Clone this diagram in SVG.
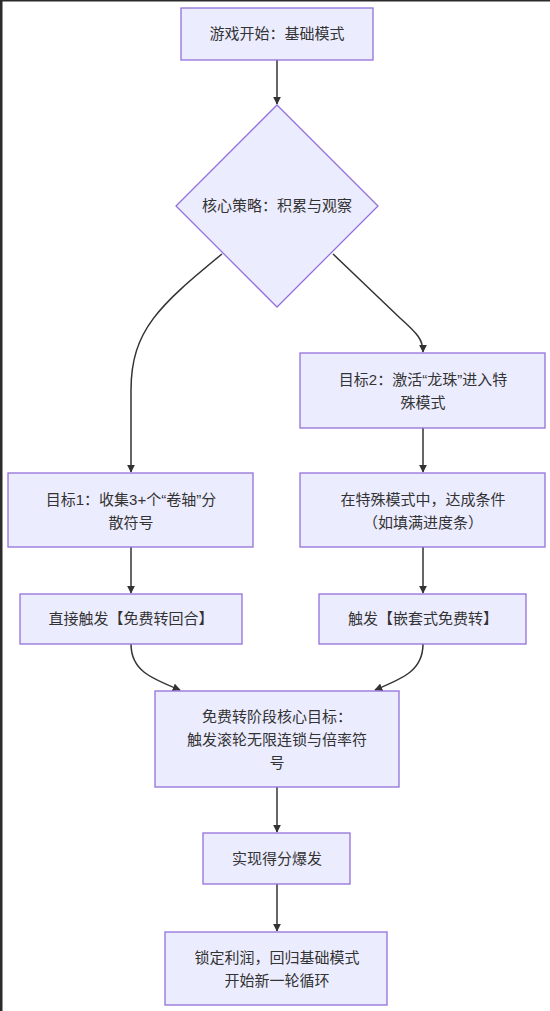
<svg xmlns="http://www.w3.org/2000/svg" width="550" height="1011" viewBox="0 0 550 1011">
<defs>
<style>
.node rect, .node polygon { fill: #ECECFF; stroke: #9370DB; stroke-width: 1.3; }
.node text { font-family: "Liberation Sans", "Noto Sans CJK SC", sans-serif; font-size: 15px; fill: #333333; text-anchor: middle; }
.edges path { fill: none; stroke: #333333; stroke-width: 1.5; }
</style>
<marker id="arrow" viewBox="0 0 10 10" refX="9" refY="5" markerWidth="8" markerHeight="8" markerUnits="userSpaceOnUse" orient="auto">
<path d="M0,0 L10,5 L0,10 z" fill="#333333"/>
</marker>
</defs>
<rect x="0" y="0" width="550" height="1011" fill="#ffffff"/>
<rect x="0" y="0" width="2.5" height="1011" fill="#2b2b2b"/>
<rect x="0" y="0" width="550" height="1.5" fill="#2b2b2b"/>

<g class="edges">
<path d="M277,60 L277,104" marker-end="url(#arrow)"/>
<path d="M222,254 C160,305 131,330 131,390 L131,472" marker-end="url(#arrow)"/>
<path d="M333,254 L400,318 C418,334 423,340 423,352" marker-end="url(#arrow)"/>
<path d="M423,428 L423,472" marker-end="url(#arrow)"/>
<path d="M131,547 L131,593" marker-end="url(#arrow)"/>
<path d="M423,547 L423,593" marker-end="url(#arrow)"/>
<path d="M131,644 C131,670 150,678 180,690" marker-end="url(#arrow)"/>
<path d="M423,644 C423,670 404,678 375,690" marker-end="url(#arrow)"/>
<path d="M277,787 L277,832" marker-end="url(#arrow)"/>
<path d="M277,884 L277,931" marker-end="url(#arrow)"/>
</g>

<g id="start" class="node">
<rect x="181" y="8" width="192" height="52"/>
<text x="277" y="39">游戏开始：基础模式</text>
</g>

<g id="strategy" class="node">
<polygon points="277,105 378,206 277,307 176,206"/>
<text x="277" y="211">核心策略：积累与观察</text>
</g>

<g id="goal2" class="node">
<rect x="300" y="353" width="245" height="75"/>
<text x="423" y="385">目标2：激活“龙珠”进入特</text>
<text x="423" y="408">殊模式</text>
</g>

<g id="goal1" class="node">
<rect x="8" y="473" width="245" height="74"/>
<text x="131" y="505">目标1：收集3+个“卷轴”分</text>
<text x="131" y="528">散符号</text>
</g>

<g id="condition" class="node">
<rect x="300" y="473" width="245" height="74"/>
<text x="423" y="505">在特殊模式中，达成条件</text>
<text x="423" y="528">（如填满进度条）</text>
</g>

<g id="direct" class="node">
<rect x="20" y="594" width="222" height="50"/>
<text x="131" y="624">直接触发【免费转回合】</text>
</g>

<g id="nested" class="node">
<rect x="319" y="594" width="207" height="50"/>
<text x="423" y="624">触发【嵌套式免费转】</text>
</g>

<g id="freespin" class="node">
<rect x="155" y="691" width="244" height="96"/>
<text x="277" y="722">免费转阶段核心目标：</text>
<text x="277" y="745">触发滚轮无限连锁与倍率符</text>
<text x="277" y="768">号</text>
</g>

<g id="burst" class="node">
<rect x="203" y="833" width="147" height="51"/>
<text x="277" y="864">实现得分爆发</text>
</g>

<g id="lock" class="node">
<rect x="165" y="932" width="222" height="73"/>
<text x="277" y="963">锁定利润，回归基础模式</text>
<text x="277" y="986">开始新一轮循环</text>
</g>
</svg>
